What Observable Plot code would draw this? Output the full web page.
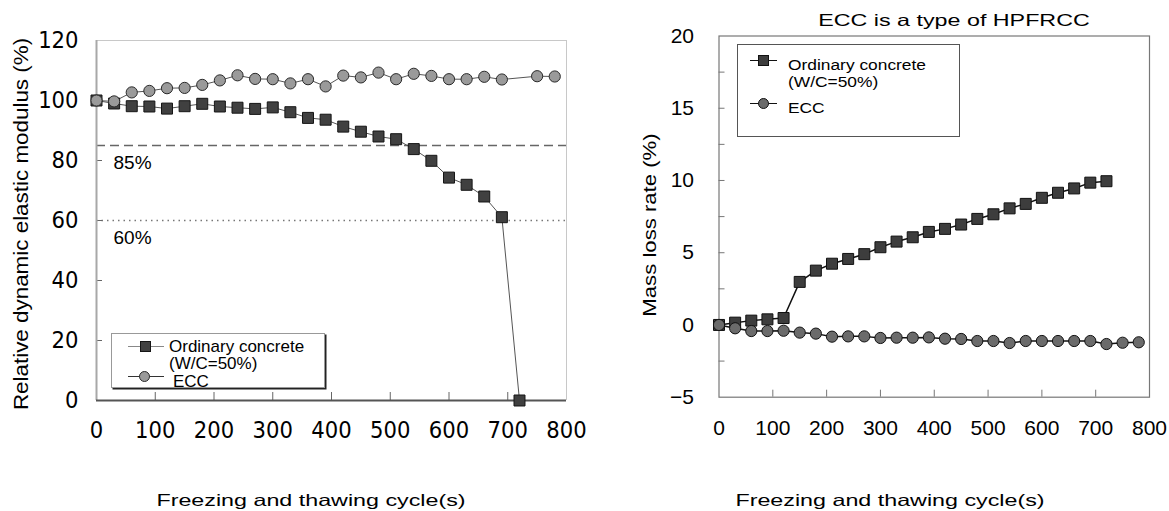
<!DOCTYPE html>
<html><head><meta charset="utf-8">
<script src="https://cdn.jsdelivr.net/npm/d3@7"></script>
<script src="https://cdn.jsdelivr.net/npm/@observablehq/plot@0.6"></script>
<style>
html,body{margin:0;padding:0;background:#fff;}
#root{position:relative;width:1169px;height:511px;overflow:hidden;font-family:"Liberation Sans",Arial,sans-serif;color:#000;}
.chart{position:absolute;top:0;}
.t{position:absolute;white-space:nowrap;line-height:1;transform-origin:center center;}
.lt{position:absolute;white-space:nowrap;line-height:1;transform-origin:left center;}
.legend{position:absolute;background:#fff;box-sizing:border-box;}
.sw{position:absolute;box-sizing:border-box;}
</style></head><body><div id="root"></div>
<script>
// ---------- data ----------
const ocCycles = [0,30,60,90,120,150,180,210,240,270,300,330,360,390,420,450,480,510,540,570,600,630,660,690,720];
const eccCyclesLeft = [0,30,60,90,120,150,180,210,240,270,300,330,360,390,420,450,480,510,540,570,600,630,660,690,750,780];
const eccCyclesRight = [0,30,60,90,120,150,180,210,240,270,300,330,360,390,420,450,480,510,540,570,600,630,660,690,720,750,780];

const modulusOC = [100,99,98.1,98,97.3,98.1,98.9,98,97.6,97.2,97.7,96.1,94.2,93.6,91.3,89.6,88,87.1,83.8,79.9,74.3,71.9,68,61.1,0];
const modulusECC = [100,99.7,102.7,103.2,104.1,104.2,105.2,106.7,108.4,107.2,107.1,105.7,107.1,104.7,108.3,107.7,109.3,107.1,108.9,108.2,107.1,107.1,107.9,107,108.1,108];

const massOC = [0,0.16,0.3,0.39,0.48,2.98,3.76,4.24,4.57,4.9,5.38,5.77,6.07,6.44,6.65,6.95,7.34,7.66,8.07,8.38,8.8,9.15,9.45,9.85,9.95];
const massECC = [0,-0.23,-0.42,-0.42,-0.4,-0.53,-0.6,-0.81,-0.79,-0.79,-0.9,-0.88,-0.88,-0.86,-0.95,-0.97,-1.11,-1.11,-1.25,-1.11,-1.11,-1.11,-1.11,-1.11,-1.32,-1.23,-1.2];

const refValues = [85, 60];
const refLabels = ["85%", "60%"];

const xTickLabels = [0,100,200,300,400,500,600,700,800];
const xTickMarks = [100,200,300,400,500,600,700];
const leftYTickLabels = [0,20,40,60,80,100,120];
const leftYTickMarks = [20,40,60,80,100];
const rightYTickLabels = [-5,0,5,10,15,20];
const rightYTickMarks = [-2.5,0,2.5,5,7.5,10,12.5,15,17.5];

const seriesNames = ["Ordinary concrete", "(W/C=50%)", "ECC"];
const xTitle = "Freezing and thawing cycle(s)";
const leftYTitle = "Relative dynamic elastic modulus (%)";
const rightYTitle = "Mass loss rate (%)";
const rightTitle = "ECC is a type of HPFRCC";

// ---------- tables ----------
const leftOC = ocCycles.map((c,i) => ({cycle: c, value: modulusOC[i]}));
const leftECC = eccCyclesLeft.map((c,i) => ({cycle: c, value: modulusECC[i]}));
const rightOC = ocCycles.map((c,i) => ({cycle: c, value: massOC[i]}));
const rightECC = eccCyclesRight.map((c,i) => ({cycle: c, value: massECC[i]}));
const refs = refValues.map((v,i) => ({value: v, label: refLabels[i]}));

const root = document.getElementById("root");

// ---------- left chart ----------
const leftPlot = Plot.plot({
  width: 600, height: 460,
  marginLeft: 96, marginRight: 34, marginTop: 40, marginBottom: 60,
  style: {fontFamily: '"Liberation Sans Narrow","DejaVu Sans Condensed",sans-serif', fontSize: "23.5px", color: "#000", background: "transparent"},
  x: {domain: [0, 800]},
  y: {domain: [0, 120]},
  marks: [
    Plot.ruleY([120], {stroke: "#c8c8c8", strokeWidth: 1}),
    Plot.ruleX([800], {stroke: "#c8c8c8", strokeWidth: 1}),
    Plot.ruleY([refValues[0]], {stroke: "#666", strokeWidth: 1.5, strokeDasharray: "9,5"}),
    Plot.ruleY([refValues[1]], {stroke: "#777", strokeWidth: 1.5, strokeDasharray: "1.5,4"}),
    Plot.text(refs, {frameAnchor: "left", y: "value", text: "label", dx: 17, dy: 17, textAnchor: "start", fontFamily: "Liberation Sans", fontSize: 19, fill: "#000"}),
    Plot.axisX(xTickMarks, {tickSize: -8, fill: "none", stroke: "#666", label: null}),
    Plot.axisY(leftYTickMarks, {tickSize: -6, fill: "none", stroke: "#666", label: null}),
    Plot.axisX(xTickLabels, {tickSize: 0, tickPadding: 21, stroke: "none", fontSize: 23.5, label: null}),
    Plot.axisY(leftYTickLabels, {tickSize: 0, tickPadding: 18, stroke: "none", fontSize: 23.5, label: null}),
    Plot.ruleX([0], {stroke: "#a8a8a8", strokeWidth: 2}),
    Plot.ruleY([0], {stroke: "#555", strokeWidth: 2}),
    Plot.line(leftOC, {x: "cycle", y: "value", stroke: "#555", strokeWidth: 1}),
    Plot.line(leftECC, {x: "cycle", y: "value", stroke: "#555", strokeWidth: 1}),
    Plot.dot(leftOC, {x: "cycle", y: "value", symbol: "square", r: 6.2, fill: "#404040", stroke: "#151515", strokeWidth: 1}),
    Plot.dot(leftECC, {x: "cycle", y: "value", r: 5.6, fill: "#9a9a9a", stroke: "#2a2a2a", strokeWidth: 1})
  ]
});
const lw = document.createElement("div");
lw.className = "chart"; lw.style.left = "0px";
lw.appendChild(leftPlot); root.appendChild(lw);

// ---------- right chart ----------
const rightPlot = Plot.plot({
  width: 549, height: 460,
  marginLeft: 98.5, marginRight: 20, marginTop: 35.5, marginBottom: 63.3,
  style: {fontFamily: '"Liberation Sans",Arial,sans-serif', fontSize: "21px", color: "#000", background: "transparent"},
  x: {domain: [0, 800]},
  y: {domain: [-5, 20]},
  marks: [
    Plot.frame({stroke: "#777", strokeWidth: 1.2}),
    Plot.axisX(xTickMarks, {tickSize: -7, fill: "none", stroke: "#777", label: null}),
    Plot.axisY(rightYTickMarks, {tickSize: -6, fill: "none", stroke: "#777", label: null}),
    Plot.axisX(xTickLabels, {tickSize: 0, tickPadding: 23, stroke: "none", fontSize: 21, label: null}),
    Plot.axisY(rightYTickLabels, {tickSize: 0, tickPadding: 25, stroke: "none", fontSize: 21, label: null}),
    Plot.line(rightOC, {x: "cycle", y: "value", stroke: "#111", strokeWidth: 1.5}),
    Plot.line(rightECC, {x: "cycle", y: "value", stroke: "#111", strokeWidth: 1.5}),
    Plot.dot(rightOC, {x: "cycle", y: "value", symbol: "square", r: 6.2, fill: "#3d3d3d", stroke: "#111", strokeWidth: 1}),
    Plot.dot(rightECC, {x: "cycle", y: "value", r: 5.6, fill: "#6b6b6b", stroke: "#111", strokeWidth: 1})
  ]
});
const rw = document.createElement("div");
rw.className = "chart"; rw.style.left = "620px";
rw.appendChild(rightPlot); root.appendChild(rw);

// ---------- titles (HTML) ----------
function centerText(text, x, y, size, sx, rot) {
  const d = document.createElement("div");
  d.className = "t"; d.textContent = text;
  d.style.left = x + "px"; d.style.top = y + "px"; d.style.fontSize = size + "px";
  d.style.transform = `translate(-50%,-50%) rotate(${rot}deg) scaleX(${sx})`;
  root.appendChild(d);
}
centerText(leftYTitle, 21, 224, 20, 1.12, -90);
centerText(rightYTitle, 650, 225, 18, 1.23, -90);
centerText(xTitle, 311, 500, 16.5, 1.41, 0);
centerText(xTitle, 890, 500, 16.5, 1.41, 0);
centerText(rightTitle, 954, 20, 16.5, 1.41, 0);

// ---------- legends (HTML) ----------
function box(cls, css) {
  const d = document.createElement("div");
  d.className = cls; Object.assign(d.style, css); root.appendChild(d); return d;
}
function leftText(text, x, y, size, sx) {
  const d = document.createElement("div");
  d.className = "lt"; d.textContent = text;
  d.style.left = x + "px"; d.style.top = y + "px"; d.style.fontSize = size + "px";
  d.style.transform = `translateY(-50%) scaleX(${sx})`;
  root.appendChild(d);
}
// left legend
box("legend", {left: "111px", top: "333px", width: "214px", height: "55px", border: "1px solid #999", boxShadow: "1.5px 1.5px 0 #222"});
box("sw", {left: "128px", top: "346px", width: "36px", height: "0px", borderTop: "1px solid #888"});
box("sw", {left: "139.5px", top: "341px", width: "11px", height: "11px", background: "#404040", border: "1px solid #151515"});
box("sw", {left: "128px", top: "376px", width: "36px", height: "0px", borderTop: "1px solid #333"});
box("sw", {left: "139px", top: "370.5px", width: "11px", height: "11px", background: "#9a9a9a", border: "1px solid #2a2a2a", borderRadius: "50%"});
leftText(seriesNames[0], 169, 346, 17, 1);
leftText(seriesNames[1], 169, 363, 17, 1);
leftText(seriesNames[2], 173, 381, 17, 1);
// right legend
box("legend", {left: "737px", top: "44px", width: "223px", height: "93px", border: "1px solid #555"});
box("sw", {left: "750px", top: "59.5px", width: "27px", height: "0px", borderTop: "1.5px solid #111"});
box("sw", {left: "758px", top: "54.5px", width: "11px", height: "11px", background: "#3d3d3d", border: "1px solid #111"});
box("sw", {left: "750px", top: "102.5px", width: "27px", height: "0px", borderTop: "1.5px solid #111"});
box("sw", {left: "758px", top: "97.5px", width: "11px", height: "11px", background: "#6b6b6b", border: "1px solid #111", borderRadius: "50%"});
leftText(seriesNames[0], 788, 65, 15.5, 1.12);
leftText(seriesNames[1], 788, 82, 15.5, 1.12);
leftText(seriesNames[2], 788, 108, 15.5, 1.12);
</script></body></html>
